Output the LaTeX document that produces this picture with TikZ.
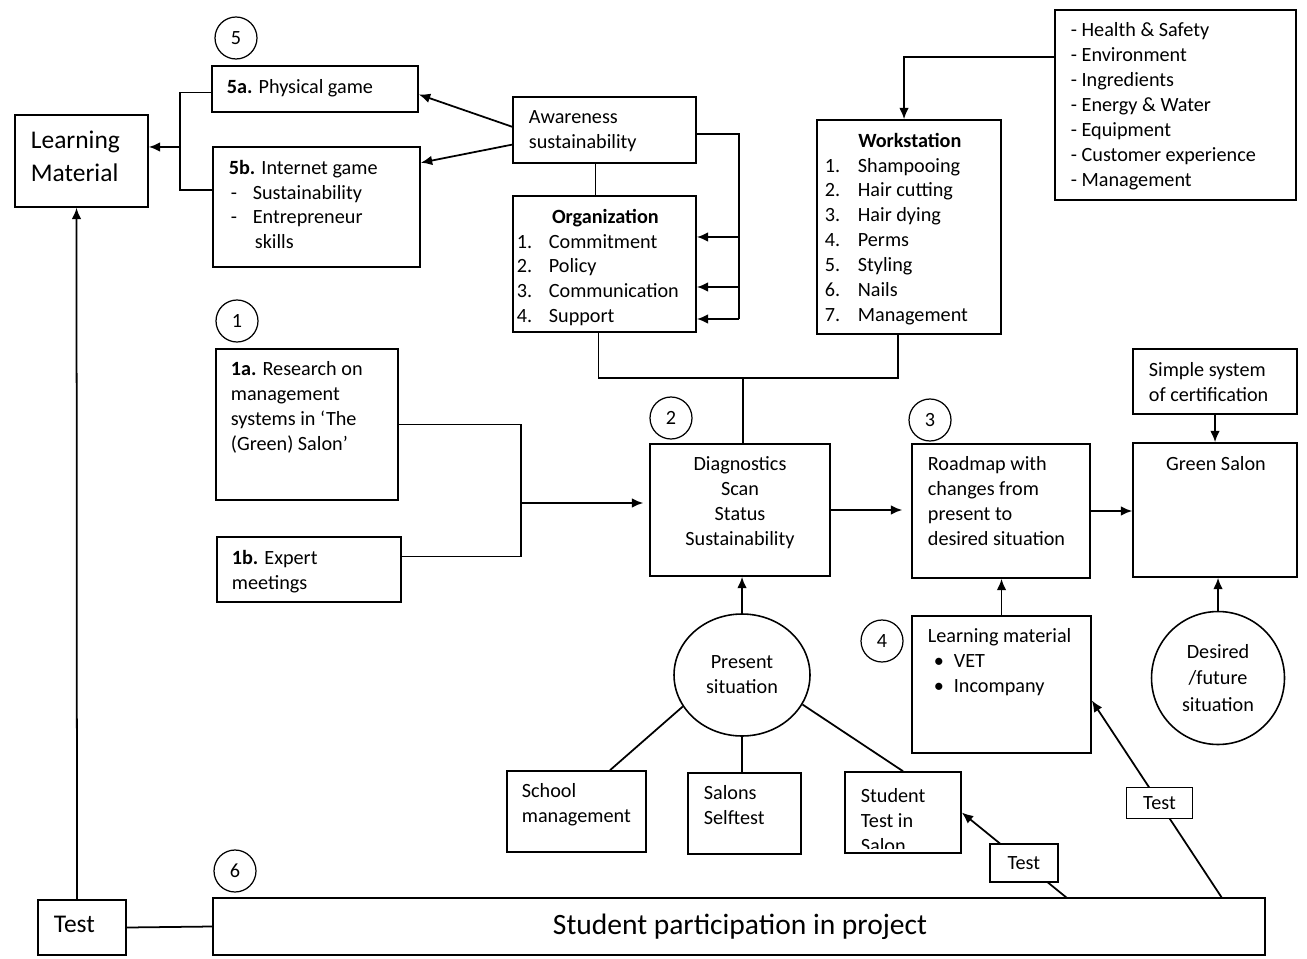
\documentclass[tikz,border=0pt]{standalone}
\usepackage{fontspec}
\setmainfont{Carlito}
\usetikzlibrary{arrows.meta,fit,shapes.geometric}
\tikzset{
  box/.style={draw, line width=0.9pt, inner sep=0pt, fit={#1}},
  txt/.style={anchor=north west, inner sep=0pt, align=left},
  num/.style={draw, circle, line width=0.7pt, minimum size=0.84cm, inner sep=0pt},
  arr/.style={-{Latex[length=6.5pt,width=5.5pt]}, line width=1pt},
  tbox/.style={draw, fill=white, line width=0.9pt, inner sep=0pt, align=center},
  big/.style={font=\fontsize{14.5}{18.7}\selectfont},
}
\begin{document}
\begin{tikzpicture}[x=0.02cm, y=-0.02cm, line width=1pt, font=\fontsize{11.5}{14.2}\selectfont]
	\useasboundingbox (0,0) rectangle (1307,959);
	% step 5: games
	\node[num] at (236,38) (c5) {5};
	\node[box={(212,66) (418,112)}] (p5a) {};
	\node[txt] at (226,79) (t5a) {\textbf{5a.} Physical game};
	\node[box={(213,147) (420,267)}] (p5b) {};
	\node[txt] at (228,159) (t5b) {\textbf{5b.} Internet game\\
		\hspace{0.04cm}\makebox[0.44cm][l]{-}Sustainability\\
		\hspace{0.04cm}\makebox[0.44cm][l]{-}Entrepreneur\\
		\hspace{0.52cm}skills};
	\node[box={(15,115) (148,207)}] (lm) {};
	\node[txt, big] at (30,130) (tlm) {Learning\\Material};
	\coordinate (j5) at (180,147);
	\draw ([yshift=-0.07cm]p5a.west) -| (j5) |- ([yshift=0.34cm]p5b.west);
	\draw[arr] (j5) -- (j5 -| lm.east);
	% awareness and organization
	\node[box={(513,97) (696,163)}] (aw) {};
	\node[txt] at (528,110) (taw) {Awareness\\sustainability};
	\draw[arr] (aw.178) -- (p5a.-3);
	\draw[arr] (aw.189) -- (p5b.23);
	\node[box={(513,196) (696,332)}] (org) {};
	\node[txt] at (516,208) (torg) {\makebox[3.54cm]{\textbf{Organization}}\\
		\makebox[0.64cm][l]{1.}Commitment\\
		\makebox[0.64cm][l]{2.}Policy\\
		\makebox[0.64cm][l]{3.}Communication\\
		\makebox[0.64cm][l]{4.}Support};
	\draw ([xshift=-0.18cm]aw.south) -- ([xshift=-0.18cm]org.north);
	\coordinate (k0) at (739,319);
	\draw ([yshift=-0.08cm]aw.east) -| (k0);
	\foreach \y in {237,287,319}{
		\coordinate (k) at (739,\y);
		\draw[arr] (k) -- (k -| org.east);
	}
	% workstation
	\node[box={(1055,10) (1296,200)}] (hs) {};
	\node[txt] at (1070,22) (ths) {- Health \& Safety\\- Environment\\- Ingredients\\- Energy \& Water\\- Equipment\\- Customer experience\\- Management};
	\node[box={(817,120) (1001,334)}] (ws) {};
	\node[txt] at (824,132) (tws) {\makebox[3.4cm]{\textbf{Workstation}}\\
		\makebox[0.66cm][l]{1.}Shampooing\\
		\makebox[0.66cm][l]{2.}Hair cutting\\
		\makebox[0.66cm][l]{3.}Hair dying\\
		\makebox[0.66cm][l]{4.}Perms\\
		\makebox[0.66cm][l]{5.}Styling\\
		\makebox[0.66cm][l]{6.}Nails\\
		\makebox[0.66cm][l]{7.}Management};
	\draw[arr] ([yshift=0.96cm]hs.west) -| ([xshift=-0.1cm]ws.north);
	% step 1: research
	\node[num] at (237,321) (c1) {1};
	\node[box={(216,349) (398,500)}] (b1a) {};
	\node[txt] at (230,361) (t1a) {\textbf{1a.} Research on\\management\\systems in ‘The\\(Green) Salon’};
	\node[box={(217,537) (401,602)}] (b1b) {};
	\node[txt] at (231,549) (t1b) {\textbf{1b.} Expert\\meetings};
	% step 2: diagnostics
	\node[num] at (671,418) (c2) {2};
	\node[box={(650,444) (830,576)}] (diag) {};
	\node[anchor=north, inner sep=0pt, align=center] at (740,456) (tdiag) {Diagnostics\\Scan\\Status\\Sustainability};
	\coordinate (j1) at (521,503);
	\draw (b1a.east) -| (j1) |- ([yshift=0.26cm]b1b.east);
	\draw[arr, shorten >=0.12cm] (j1) -- (j1 -| diag.west);
	\coordinate (j2) at (743,378);
	\draw ([xshift=-0.12cm]org.south) |- (j2) -| ([xshift=-0.22cm]ws.south);
	\draw (j2) -- (j2 |- diag.north);
	% step 3: roadmap
	\node[num] at (930,420) (c3) {3};
	\node[box={(912,444) (1090,578)}] (rm) {};
	\node[txt] at (927,456) (trm) {Roadmap with\\changes from\\present to\\desired situation};
	\node[box={(1133,349) (1297,414)}] (ss) {};
	\node[txt] at (1148,362) (tss) {Simple system\\of certification};
	\node[box={(1133,443) (1297,577)}] (gs) {};
	\node[anchor=north, inner sep=0pt] at (1216,456) (tgs) {Green Salon};
	\draw[arr, shorten >=0.18cm] (diag.east) -- (diag.east -| rm.west);
	\draw[arr] (rm.east) -- (rm.east -| gs.west);
	\draw[arr] (ss.south) -- (gs.north);
	% step 4: learning material
	\node[num] at (882,641) (c4) {4};
	\node[box={(912,616) (1091,753)}] (lmat) {};
	\node[txt] at (927,628) (tlmat) {Learning material\\
		\hspace{0.12cm}\makebox[0.4cm][l]{•}VET\\
		\hspace{0.12cm}\makebox[0.4cm][l]{•}Incompany};
	\draw[arr] (lmat.north) -- (lmat.north |- rm.south);
	\node[draw, ellipse, line width=0.9pt, minimum width=2.66cm, minimum height=2.66cm, inner sep=0pt, align=center, font=\fontsize{11.5}{15.3}\selectfont] at (1218,678) (des) {Desired\\/future\\situation};
	\draw[arr] (des.north) -- (des.north |- gs.south);
	% present situation
	\node[draw, ellipse, line width=0.9pt, minimum width=2.72cm, minimum height=2.44cm, inner sep=0pt, align=center] at (742,675) (pres) {Present\\situation};
	\draw[arr] (pres.north) -- (pres.north |- diag.south);
	\node[box={(507,771) (646,852)}] (school) {};
	\node[txt] at (521,783) (tschool) {School\\management};
	\node[box={(688,773) (801,854)}] (salons) {};
	\node[txt] at (703,785) (tsalons) {Salons\\Selftest};
	\node[box={(845,772) (961,853)}] (stu) {};
	\begin{scope}
		\clip (stu.north west) rectangle ([yshift=0.1cm]stu.south east);
		\node[txt] at (860,788) (tstu) {Student\\Test in\\Salon};
	\end{scope}
	\draw (pres.208) -- ([xshift=0.67cm]school.north);
	\draw (pres.south) -- (pres.south |- salons.north);
	\draw (pres.-26) -- (stu.north);
	% step 6: participation
	\node[num] at (235,871) (c6) {6};
	\node[box={(213,898) (1265,955)}] (part) {};
	\node[inner sep=0pt, font=\fontsize{16.8}{20}\selectfont] at (740,927) (tpart) {Student participation in project};
	\node[box={(38,900) (126,955)}] (test) {};
	\node[txt, big] at (53,915) (ttest) {Test};
	\draw (test.east) -- (part.west);
	\draw[arr] ([xshift=-0.1cm]test.north) -- ([xshift=-0.1cm]lm.south);
	\coordinate (q1) at (1067,898);
	\coordinate (q2) at (1222,898);
	\draw[arr] (q1) -- node[tbox, pos=0.41, minimum width=1.36cm, minimum height=0.76cm] (tt1) {Test} (stu.east);
	\draw[arr] (q2) -- node[tbox, pos=0.48, minimum width=1.32cm, minimum height=0.62cm] (tt2) {Test} (lmat.-10);
\end{tikzpicture}
\end{document}
